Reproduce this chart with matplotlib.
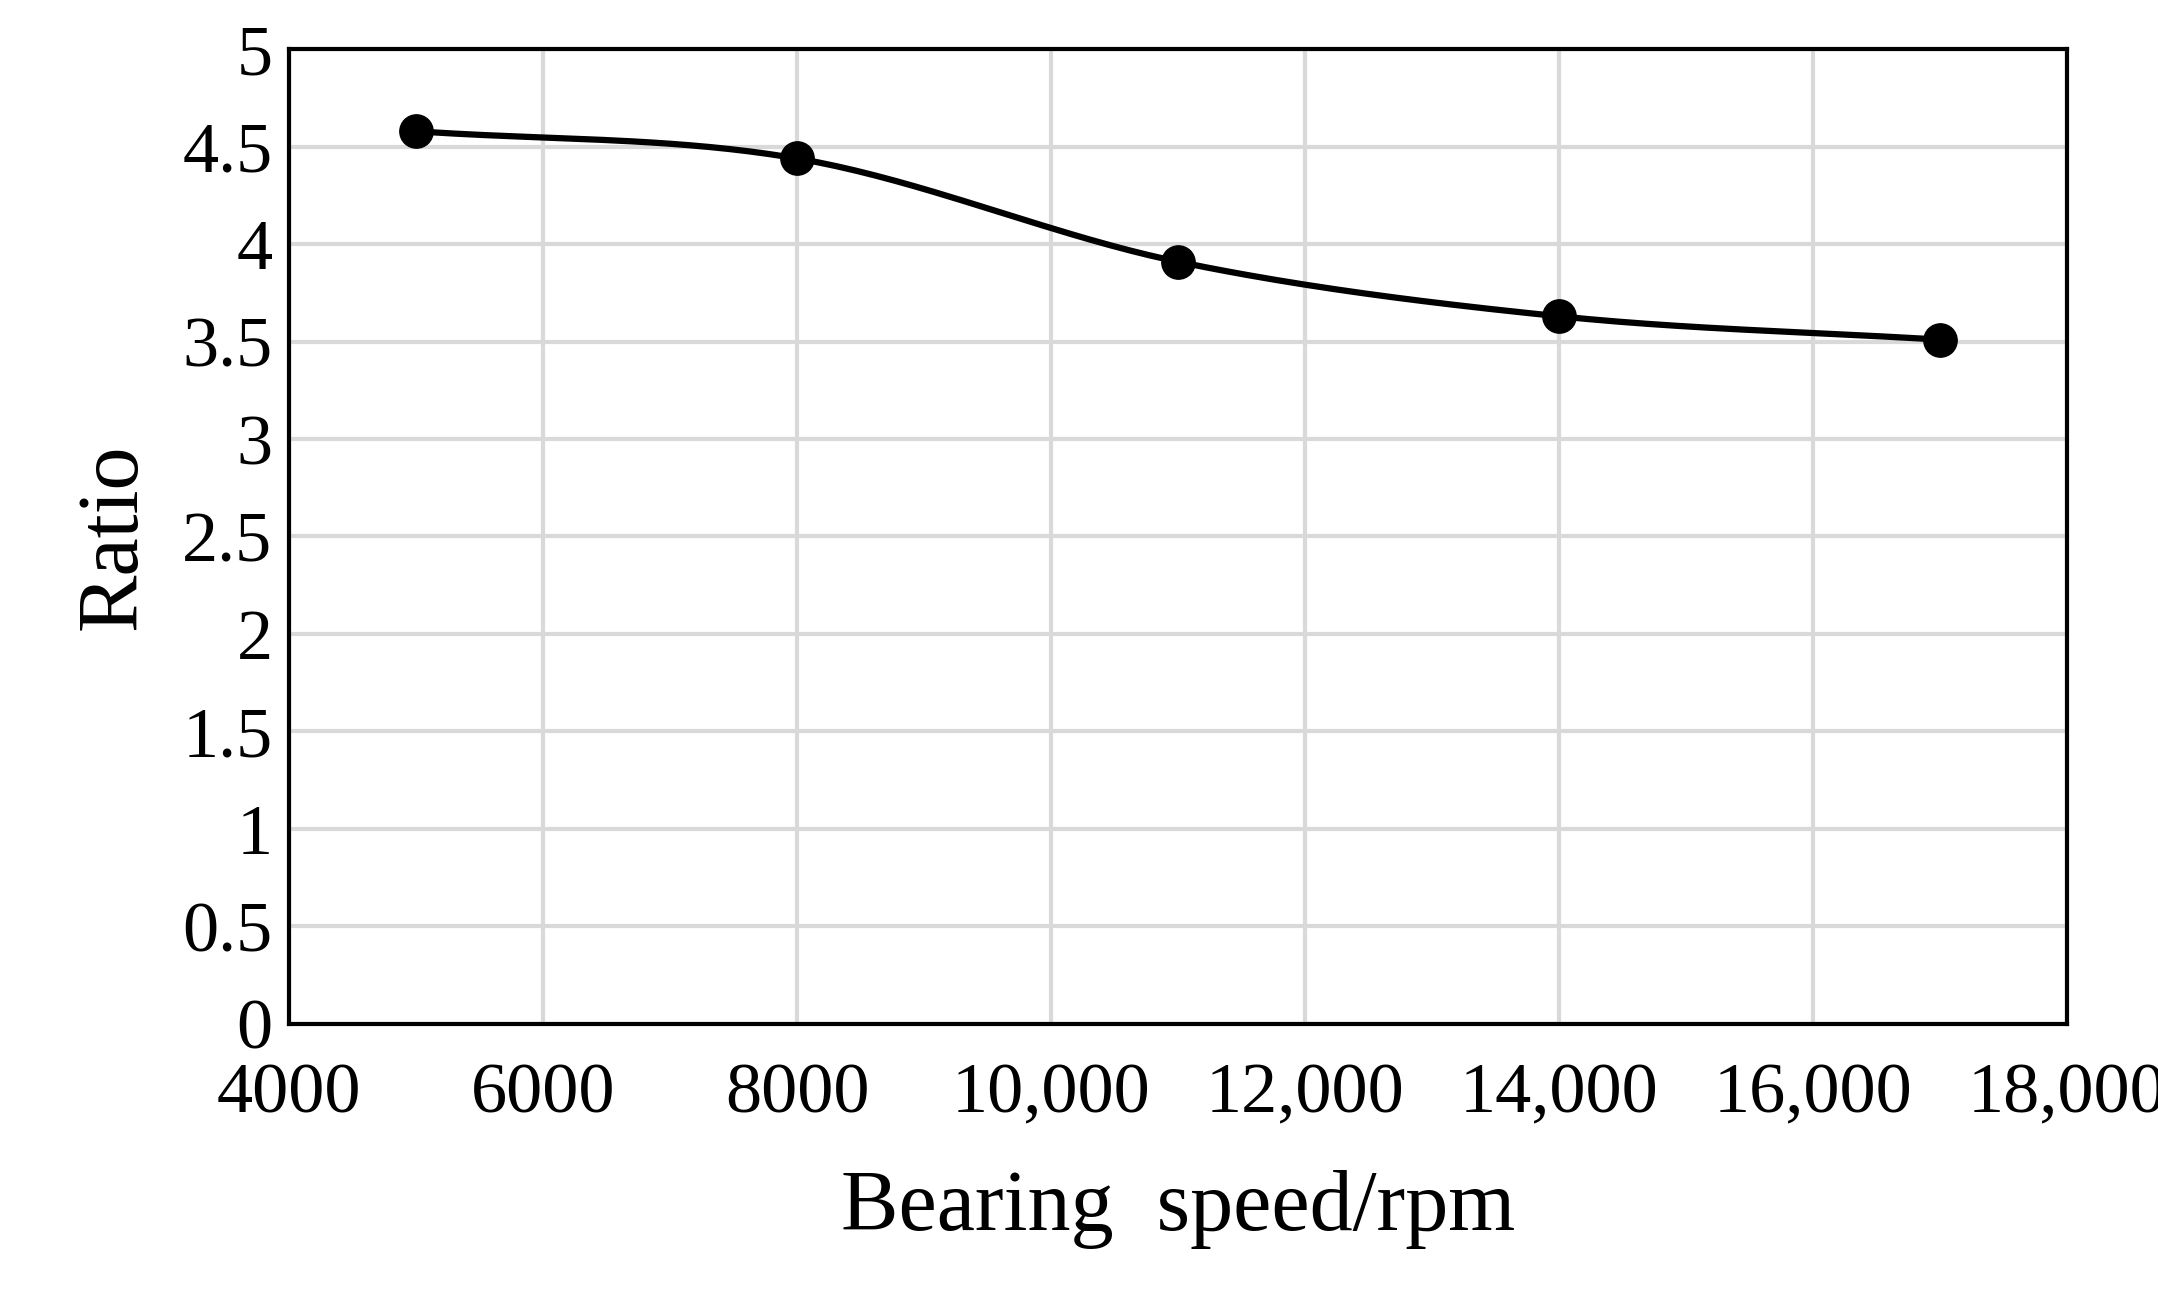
import numpy as np
import matplotlib
matplotlib.use("Agg")
import matplotlib.pyplot as plt

speed = [5000, 8000, 11000, 14000, 17000]
ratio = [4.58, 4.44, 3.91, 3.63, 3.51]
xticks = [4000, 6000, 8000, 10000, 12000, 14000, 16000, 18000]
xticklabels = ["4000", "6000", "8000", "10,000", "12,000", "14,000", "16,000", "18,000"]
yticks = [0, 0.5, 1, 1.5, 2, 2.5, 3, 3.5, 4, 4.5, 5]
yticklabels = ["0", "0.5", "1", "1.5", "2", "2.5", "3", "3.5", "4", "4.5", "5"]

plt.rcParams['font.family'] = ['Liberation Serif', 'DejaVu Serif']

def catmull(xs, ys, n=40):
    P = np.column_stack([xs, ys]).astype(float)
    P = np.vstack([P[0] - (P[1] - P[0]), P, P[-1] + (P[-1] - P[-2])])
    out = []
    for i in range(1, len(P) - 2):
        p0, p1, p2, p3 = P[i-1], P[i], P[i+1], P[i+2]
        t = np.linspace(0, 1, n)[:, None]
        m1 = (p2 - p0) / 2; m2 = (p3 - p1) / 2
        h00 = 2*t**3 - 3*t**2 + 1; h10 = t**3 - 2*t**2 + t
        h01 = -2*t**3 + 3*t**2; h11 = t**3 - t**2
        out.append(h00*p1 + h10*m1 + h01*p2 + h11*m2)
    c = np.vstack(out)
    return c[:, 0], c[:, 1]

fig = plt.figure(figsize=(21.58, 12.99), dpi=100)
ax = fig.add_axes([0.134, 0.212, 0.824, 0.750])
sx, sy = catmull(speed, ratio)
ax.plot(sx, sy, color='black', lw=4.5, zorder=3)
ax.plot(speed, ratio, 'o', color='black', ms=24, zorder=4)
ax.set_xlim(4000, 18000)
ax.set_ylim(0, 5)
ax.set_xticks(xticks)
ax.set_xticklabels(xticklabels)
ax.set_yticks(yticks)
ax.set_yticklabels(yticklabels)
ax.tick_params(length=0, labelsize=52)
ax.tick_params(axis='x', pad=28)
ax.tick_params(axis='y', pad=12)
ax.grid(True, color='#d9d9d9', lw=3)
ax.set_axisbelow(True)
for s in ax.spines.values():
    s.set_linewidth(3)
    s.set_color('black')
ax.set_xlabel("Bearing  speed/rpm", fontsize=62, labelpad=30)
ax.set_ylabel("Ratio", fontsize=62, labelpad=20)
fig.savefig("out.png", dpi=100, facecolor='white')
